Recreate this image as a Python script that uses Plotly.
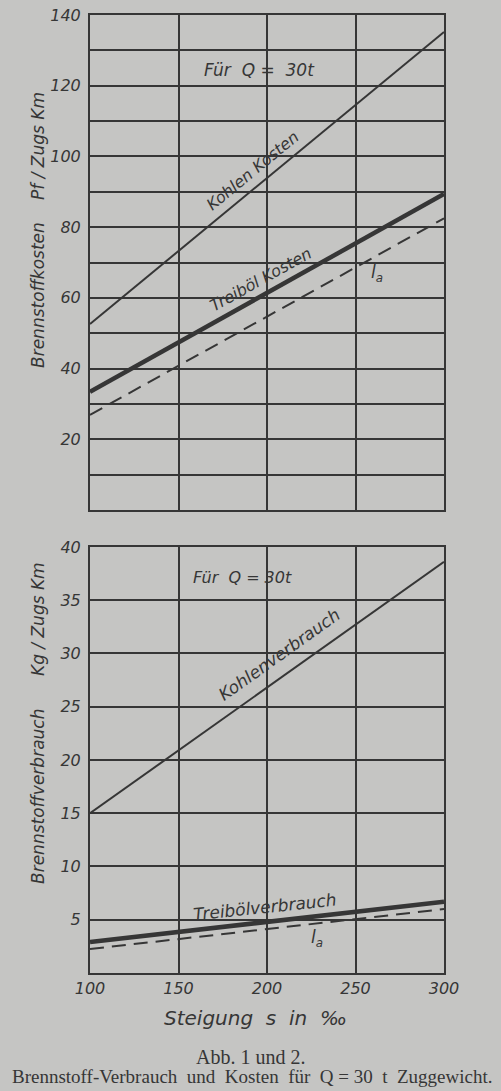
import plotly.graph_objects as go

# ---- data ----
steigung = [100, 300]
kohlen_kosten = [52.6, 135.2]
treiboel_kosten = [33.4, 89.4]
la_kosten = [26.9, 82.5]
kohlen_verbrauch = [15.0, 38.6]
treiboel_verbrauch = [2.9, 6.7]
la_verbrauch = [2.25, 6.0]

x_ticks = [100, 150, 200, 250, 300]
y1_labels = [20, 40, 60, 80, 100, 120, 140]
y1_grid = list(range(0, 141, 10))
y2_labels = [5, 10, 15, 20, 25, 30, 35, 40]
y2_grid = list(range(0, 41, 5))

INK = "#363636"
PAPER = "#c5c5c3"
HAND = "DejaVu Sans"
SERIF = "Liberation Serif"

fig = go.Figure()
fig.add_trace(go.Scatter(x=steigung, y=kohlen_kosten, mode="lines",
                         line=dict(color=INK, width=2), xaxis="x", yaxis="y"))
fig.add_trace(go.Scatter(x=steigung, y=treiboel_kosten, mode="lines",
                         line=dict(color=INK, width=4.5), xaxis="x", yaxis="y"))
fig.add_trace(go.Scatter(x=steigung, y=la_kosten, mode="lines",
                         line=dict(color=INK, width=2, dash="14px,8px"), xaxis="x", yaxis="y"))
fig.add_trace(go.Scatter(x=steigung, y=kohlen_verbrauch, mode="lines",
                         line=dict(color=INK, width=2), xaxis="x2", yaxis="y2"))
fig.add_trace(go.Scatter(x=steigung, y=treiboel_verbrauch, mode="lines",
                         line=dict(color=INK, width=4.5), xaxis="x2", yaxis="y2"))
fig.add_trace(go.Scatter(x=steigung, y=la_verbrauch, mode="lines",
                         line=dict(color=INK, width=2, dash="14px,8px"), xaxis="x2", yaxis="y2"))

axis_common = dict(showline=True, linecolor=INK, linewidth=2, mirror=True,
                   showgrid=True, gridcolor=INK, gridwidth=1.5, zeroline=False,
                   ticks="", fixedrange=True)
tickfont = dict(family=HAND, size=16, color=INK, style="italic")

fig.update_layout(
    width=501, height=1091,
    margin=dict(l=90, r=57, t=15, b=118, autoexpand=False),
    paper_bgcolor=PAPER, plot_bgcolor=PAPER,
    showlegend=False,
    xaxis=dict(domain=[0, 1], anchor="y", range=[100, 300], tickvals=x_ticks,
               showticklabels=False, **axis_common),
    yaxis=dict(domain=[0.4833, 1], anchor="x", range=[0, 140], tickvals=y1_labels,
               minor=dict(tickvals=y1_grid, showgrid=True, gridcolor=INK, gridwidth=1.5, ticks=""),
               tickfont=tickfont, ticklabelstandoff=4, **axis_common),
    xaxis2=dict(domain=[0, 1], anchor="y2", range=[100, 300], tickvals=x_ticks,
                tickfont=tickfont, **axis_common),
    yaxis2=dict(domain=[0, 0.4447], anchor="x2", range=[0, 40], tickvals=y2_labels,
                minor=dict(tickvals=y2_grid, showgrid=True, gridcolor=INK, gridwidth=1.5, ticks=""),
                tickfont=tickfont, ticklabelstandoff=4, **axis_common),
)

def ann(text, x, y, xref, yref, size=15, angle=0, family=HAND, style="italic"):
    fig.add_annotation(text=text, x=x, y=y, xref=xref, yref=yref, showarrow=False,
                       textangle=angle, xanchor="center", yanchor="middle",
                       font=dict(family=family, size=size, color=INK, style=style))

# in-plot labels, top panel
ann("Für  Q =  30t", 196, 124.4, "x", "y", size=17)
ann("Kohlen Kosten", 192.1, 95.9, "x", "y", size=16, angle=-39.5)
ann("Treiböl Kosten", 196.4, 65.3, "x", "y", size=16, angle=-29)
ann("l<sub>a</sub>", 262, 67, "x", "y", size=17)
# in-plot labels, bottom panel
ann("Für  Q = 30t", 186, 37.1, "x2", "y2", size=16)
ann("Kohlenverbrauch", 206.5, 29.9, "x2", "y2", size=17, angle=-35.5)
ann("Treibölverbrauch", 199, 6.2, "x2", "y2", size=17, angle=-6)
ann("l<sub>a</sub>", 228, 3.2, "x2", "y2", size=17)

# axis titles (paper coords: px -> paper)
def px(xp):
    return (xp - 90) / 354.0
def py(yp):
    return (973 - yp) / 958.0

ann("Brennstoffkosten", px(38), py(295), "paper", "paper", size=17, angle=-90)
ann("Pf / Zugs Km", px(38), py(146), "paper", "paper", size=17, angle=-90)
ann("Brennstoffverbrauch", px(38), py(797), "paper", "paper", size=17, angle=-90)
ann("Kg / Zugs Km", px(38), py(619), "paper", "paper", size=17, angle=-90)
ann("Steigung  s  in  ‰", px(255), py(1018), "paper", "paper", size=20)

# caption
ann("Abb. 1 und 2.", px(250), py(1057), "paper", "paper", size=20, family=SERIF, style="normal")
ann("Brennstoff-Verbrauch  und  Kosten  für  Q = 30  t  Zuggewicht.", px(252), py(1076),
    "paper", "paper", size=19, family=SERIF, style="normal")

fig.write_html("out.html", post_script="document.body.style.margin='0';",
               config={"displayModeBar": False})
